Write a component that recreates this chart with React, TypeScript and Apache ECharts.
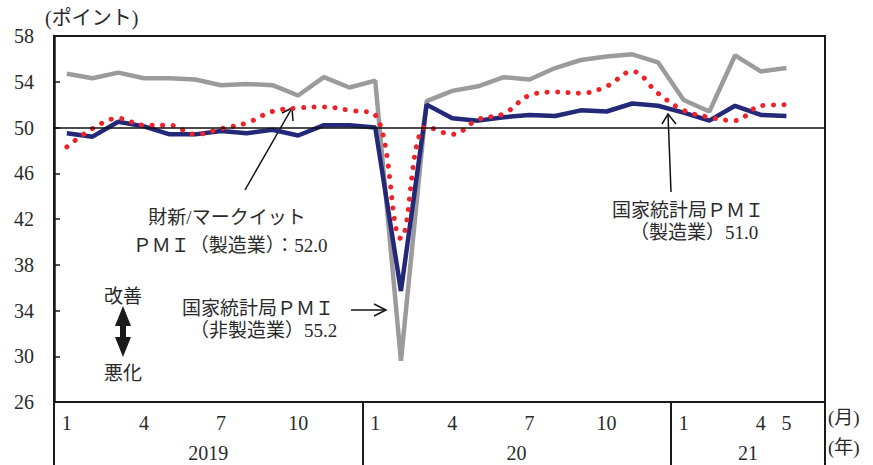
import { useEffect, useRef } from 'react';
import * as echarts from 'echarts';

// Jan 2019 .. Jun 2021 (last category left empty)
const monthLabels = [
  '1', '2', '3', '4', '5', '6', '7', '8', '9', '10', '11', '12',
  '1', '2', '3', '4', '5', '6', '7', '8', '9', '10', '11', '12',
  '1', '2', '3', '4', '5', '6',
];
const shownMonthIdx = [0, 3, 6, 9, 12, 15, 18, 21, 24, 27, 28];
const yearLabels = ['2019', '20', '21'];
const yearSpans = [12, 12, 6];

// 国家統計局PMI（非製造業）
const nbsNonMfg = [
  54.7, 54.3, 54.8, 54.3, 54.3, 54.2, 53.7, 53.8, 53.7, 52.8, 54.4, 53.5,
  54.1, 29.6, 52.3, 53.2, 53.6, 54.4, 54.2, 55.2, 55.9, 56.2, 56.4, 55.7,
  52.4, 51.4, 56.3, 54.9, 55.2,
];
// 国家統計局PMI（製造業）
const nbsMfg = [
  49.5, 49.2, 50.5, 50.1, 49.4, 49.4, 49.7, 49.5, 49.8, 49.3, 50.2, 50.2,
  50.0, 35.7, 52.0, 50.8, 50.6, 50.9, 51.1, 51.0, 51.5, 51.4, 52.1, 51.9,
  51.3, 50.6, 51.9, 51.1, 51.0,
];
// 財新/マークイットPMI（製造業）
const caixinMfg = [
  48.3, 49.9, 50.8, 50.2, 50.2, 49.4, 49.9, 50.4, 51.4, 51.7, 51.8, 51.5,
  51.1, 40.3, 50.1, 49.4, 50.7, 51.2, 52.8, 53.1, 53.0, 53.6, 54.9, 53.0,
  51.5, 50.9, 50.6, 51.9, 52.0,
];

const yMin = 26;
const yMax = 58;
const yInterval = 4;

const SERIF = "'Liberation Serif', 'Noto Sans CJK JP', serif";
const TXT = '#2a2a2a';

export default function App() {
  const ref = useRef<HTMLDivElement>(null);

  useEffect(() => {
    if (!ref.current) return;
    const chart = echarts.init(ref.current, null, { renderer: 'svg' });

    const boundaries: number[] = [-0.5];
    const centers: number[] = [];
    yearSpans.forEach((s) => {
      const start = boundaries[boundaries.length - 1];
      centers.push(start + s / 2);
      boundaries.push(start + s);
    });

    const text = (t: string, x: number, y: number, align = 'left', size = 19) => ({
      type: 'text',
      x,
      y,
      silent: true,
      style: {
        text: t,
        fontSize: size,
        fontFamily: SERIF,
        fill: TXT,
        align,
        verticalAlign: 'middle',
      },
    });
    const line = (x1: number, y1: number, x2: number, y2: number) => ({
      type: 'line',
      silent: true,
      shape: { x1, y1, x2, y2 },
      style: { stroke: '#111', lineWidth: 1.5 },
    });
    const head = (pts: number[][]) => ({
      type: 'polyline',
      silent: true,
      shape: { points: pts },
      style: { stroke: '#111', lineWidth: 1.5, fill: 'none' },
    });

    chart.setOption({
      animation: false,
      grid: { left: 54, right: 48, top: 36, bottom: 63, show: true, borderColor: '#1a1a1a', borderWidth: 2, outerBoundsMode: 'none' },
      xAxis: [
        {
          type: 'category',
          data: monthLabels,
          boundaryGap: true,
          position: 'bottom',
          axisLine: { onZero: false, lineStyle: { color: '#1a1a1a', width: 2 } },
          axisTick: { show: false },
          axisLabel: {
            interval: 0,
            margin: 11,
            fontSize: 20,
            fontFamily: SERIF,
            color: TXT,
            formatter: (v: string, i: number) => (shownMonthIdx.includes(i) ? v : ''),
          },
          splitLine: { show: false },
        },
        {
          type: 'value',
          min: -0.5,
          max: monthLabels.length - 0.5,
          position: 'bottom',
          axisLine: { show: false, onZero: false },
          splitLine: { show: false },
          axisTick: { show: true, customValues: boundaries, length: 63, lineStyle: { color: '#1a1a1a', width: 2 } },
          axisLabel: {
            customValues: centers,
            margin: 41,
            fontSize: 20,
            fontFamily: SERIF,
            color: TXT,
            formatter: (v: number) => {
              const k = centers.findIndex((c) => Math.abs(c - v) < 1e-6);
              return k >= 0 ? yearLabels[k] : '';
            },
          },
        },
      ],
      yAxis: {
        type: 'value',
        min: yMin,
        max: yMax,
        interval: yInterval,
        axisLine: { show: true, onZero: false, lineStyle: { color: '#1a1a1a', width: 2.5 } },
        axisTick: { show: true, inside: true, length: 6, lineStyle: { color: '#1a1a1a', width: 1.5 } },
        axisLabel: { fontSize: 20, fontFamily: SERIF, color: TXT, margin: 20 },
        splitLine: { show: false },
      },
      series: [
        {
          name: '国家統計局PMI（非製造業）',
          type: 'line',
          data: nbsNonMfg,
          showSymbol: false,
          lineStyle: { color: '#9b9b9d', width: 4.5 },
          markLine: {
            silent: true,
            symbol: 'none',
            label: { show: false },
            lineStyle: { color: '#111', width: 1.5, type: 'solid' },
            data: [{ yAxis: 50 }],
          },
        },
        {
          name: '国家統計局PMI（製造業）',
          type: 'line',
          data: nbsMfg,
          showSymbol: false,
          lineStyle: { color: '#232878', width: 4.5 },
        },
        {
          name: '財新/マークイットPMI（製造業）',
          type: 'line',
          data: caixinMfg,
          showSymbol: false,
          smooth: 0.4,
          lineStyle: { color: '#ee2229', width: 5, type: [0.1, 10.4], cap: 'round' },
        },
      ],
      graphic: [
        text('(ポイント)', 45, 18, 'left', 20),
        text('(月)', 828, 417, 'left', 19),
        text('(年)', 828, 447, 'left', 19),
        // 財新
        text('財新/マークイット', 227, 217, 'center', 19),
        text('ＰＭＩ（製造業）：52.0', 230, 245, 'center', 19),
        line(245, 190, 292, 108),
        head([[282, 113], [292, 108], [293, 121]]),
        // 国家統計局 製造業
        text('国家統計局ＰＭＩ', 612, 210, 'left', 19),
        text('（製造業）51.0', 630, 232, 'left', 19),
        line(671, 192, 668, 114),
        head([[662, 124], [668, 114], [676, 124]]),
        // 国家統計局 非製造業
        text('国家統計局ＰＭＩ', 182, 308, 'left', 19),
        text('（非製造業）55.2', 190, 330, 'left', 19),
        line(351, 310, 386, 310),
        head([[374, 304], [386, 310], [374, 316]]),
        // 改善 / 悪化
        text('改善', 123, 296, 'center', 19),
        text('悪化', 123, 373, 'center', 19),
        {
          type: 'polygon',
          silent: true,
          shape: {
            points: [
              [123, 306], [131, 326], [126, 326], [126, 337], [131, 337],
              [123, 357], [115, 337], [120, 337], [120, 326], [115, 326],
            ],
          },
          style: { fill: '#1a1a1a' },
        },
      ],
    });

    return () => chart.dispose();
  }, []);

  return (
    <div
      ref={ref}
      style={{ position: 'absolute', left: 0, top: 0, width: 873, height: 465 }}
    />
  );
}
